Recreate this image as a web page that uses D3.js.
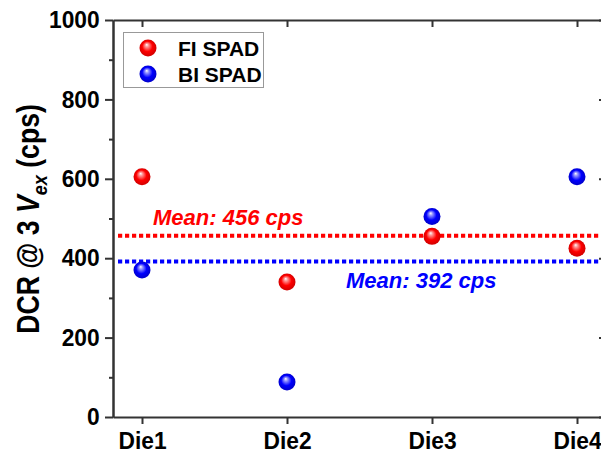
<!DOCTYPE html>
<html>
<head>
<meta charset="utf-8">
<script src="https://cdn.jsdelivr.net/npm/d3@7"></script>
<style>
  html, body { margin: 0; padding: 0; background: #fff; }
  svg { display: block; font-family: "Liberation Sans", Arial, sans-serif; }
  .axis path, .axis line { stroke: #333; stroke-width: 2; }
  .axis text { font-weight: bold; font-size: 24px; fill: #000; font-family: "Liberation Sans", Arial, sans-serif; }
</style>
</head>
<body>
<svg id="chart" width="601" height="455"></svg>
<script>
// Dark count rate per die for front- and back-illuminated SPADs
const categories = ["Die1", "Die2", "Die3", "Die4"];
const fiValues = [605, 340, 455, 425];
const biValues = [370, 88, 505, 605];
const yTicks = [0, 200, 400, 600, 800, 1000];
const yMinorTicks = [100, 300, 500, 700, 900];
const seriesNames = ["FI SPAD", "BI SPAD"];

const svg = d3.select("#chart");
const plotLeft = 113, plotRight = 606, plotTop = 20, plotBottom = 417;

const x = d3.scalePoint().domain(categories).range([plotLeft, plotRight]).padding(0.2);
const y = d3.scaleLinear().domain([0, 1000]).range([plotBottom, plotTop]);

// Sphere-like shading for markers
const defs = svg.append("defs");
function sphereGradient(id, light, base, dark) {
  const g = defs.append("radialGradient")
    .attr("id", id).attr("cx", "50%").attr("cy", "50%").attr("r", "55%")
    .attr("fx", "42%").attr("fy", "30%");
  g.append("stop").attr("offset", "0%").attr("stop-color", "#ffffff");
  g.append("stop").attr("offset", "18%").attr("stop-color", light);
  g.append("stop").attr("offset", "55%").attr("stop-color", base);
  g.append("stop").attr("offset", "100%").attr("stop-color", dark);
}
sphereGradient("gradRed", "#ff9a9a", "#ff0000", "#c80000");
sphereGradient("gradBlue", "#9a9aff", "#0000ff", "#0000c0");
const fills = ["url(#gradRed)", "url(#gradBlue)"];
const lineColors = ["#ff0000", "#0000ff"];

// Axes
svg.append("g").attr("class", "axis")
  .attr("transform", `translate(${plotLeft},0)`)
  .call(d3.axisLeft(y).tickValues(yMinorTicks).tickSize(4).tickSizeOuter(0).tickFormat(""));
svg.append("g").attr("class", "axis")
  .attr("transform", `translate(${plotLeft},0)`)
  .call(d3.axisLeft(y).tickValues(yTicks).tickSize(8).tickSizeOuter(0).tickPadding(6).tickFormat(d3.format("d")))
  .selectAll("text").attr("transform", "scale(0.95,1)");
svg.append("g").attr("class", "axis")
  .attr("transform", `translate(${plotRight},0)`)
  .call(d3.axisLeft(y).tickValues(yTicks).tickSize(7).tickSizeOuter(0).tickFormat(""));
svg.append("g").attr("class", "axis")
  .attr("transform", `translate(0,${plotTop})`)
  .call(d3.axisBottom(x).tickSize(7).tickSizeOuter(0).tickFormat(""));
svg.append("g").attr("class", "axis")
  .attr("transform", `translate(0,${plotBottom})`)
  .call(d3.axisBottom(x).tickSize(7).tickSizeOuter(0).tickPadding(8))
  .selectAll("text").attr("transform", "scale(0.95,1)");

// Y axis title (slightly condensed)
const title = svg.append("text")
  .attr("transform", `translate(39,219) rotate(-90) scale(0.86,1)`)
  .attr("text-anchor", "middle")
  .style("font-weight", "bold").style("font-size", "31px");
title.append("tspan").text("DCR @ 3 ");
title.append("tspan").style("font-style", "italic").text("V");
title.append("tspan").style("font-style", "italic").style("font-size", "21px").attr("dy", 8).text("ex");
title.append("tspan").attr("dy", -8).text(" (cps)");

// Mean lines and labels
const means = [d3.mean(fiValues), d3.mean(biValues)];
const labelPos = [{ x: 153, dy: -11 }, { x: 346, dy: 27 }];
means.forEach((m, i) => {
  svg.append("line")
    .attr("x1", 118).attr("x2", plotRight)
    .attr("y1", y(m)).attr("y2", y(m))
    .attr("stroke", lineColors[i]).attr("stroke-width", 4)
    .attr("stroke-dasharray", "4.2,2.8");
  svg.append("text")
    .attr("x", labelPos[i].x).attr("y", y(m) + labelPos[i].dy)
    .attr("fill", lineColors[i])
    .style("font-weight", "bold").style("font-style", "italic").style("font-size", "22px")
    .text(`Mean: ${Math.round(m)} cps`);
});

// Data points
[fiValues, biValues].forEach((vals, i) => {
  svg.append("g").selectAll("circle").data(vals).join("circle")
    .attr("cx", (d, j) => x(categories[j]))
    .attr("cy", d => y(d))
    .attr("r", 8.5)
    .attr("fill", fills[i]);
});

// Legend
const legend = svg.append("g");
legend.append("rect")
  .attr("x", 123.5).attr("y", 32.5).attr("width", 140).attr("height", 55)
  .attr("fill", "#fff").attr("stroke", "#999").attr("stroke-width", 1);
seriesNames.forEach((name, i) => {
  const cy = 48 + i * 26;
  legend.append("circle").attr("cx", 148).attr("cy", cy).attr("r", 8.5).attr("fill", fills[i]);
  legend.append("text").attr("x", 178).attr("y", cy + 7.5)
    .style("font-weight", "bold").style("font-size", "21px")
    .text(name);
});
</script>
</body>
</html>
